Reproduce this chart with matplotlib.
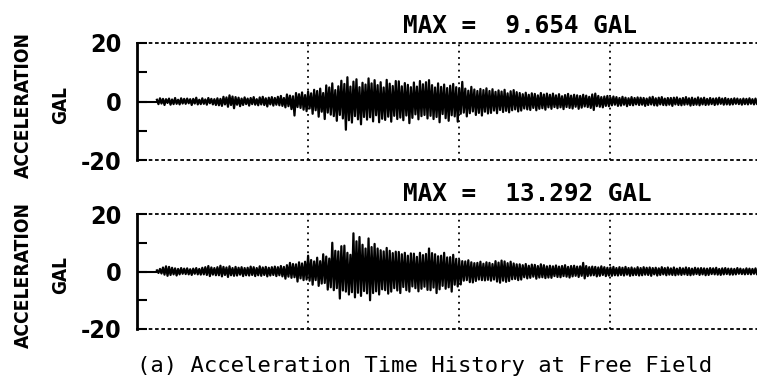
import numpy as np
import matplotlib
matplotlib.use("Agg")
import matplotlib.pyplot as plt
from matplotlib import font_manager as fm

plt.rcParams["axes.unicode_minus"] = False

# acceleration readings (gal), one value per 0.1 s
free_top = [
    0.6, -0.9, 1.1, -0.7, 0.9, -1.2, 0.8, -0.5, 1.0, -1.1, 0.7, -0.9, 1.2, -0.8, 0.6, -1.0, 1.1, -0.7, 0.9, -0.8,
    1.0, -0.6, 0.8, -1.2, 0.9, -0.7, 1.3, -1.0, 0.6, -0.9, 1.1, -0.8, 0.7, -1.1, 1.2, -0.6, 0.9, -1.0, 0.8, -1.2,
    1.1, -1.3, 0.9, -1.5, 1.6, -1.0, 1.4, -1.8, 2.1, -1.2, 1.7, -2.3, 1.5, -1.1, 1.3, -1.6, 1.0, -1.2, 1.4, -0.9,
    1.0, -1.4, 1.2, -0.9, 1.5, -1.1, 0.8, -1.3, 1.4, -1.0, 1.6, -1.2, 1.1, -1.7, 1.3, -1.0, 1.5, -1.4, 1.2, -1.1,
    1.6, -1.3, 1.9, -1.5, 1.2, -2.0, 2.4, -1.6, 2.0, -2.6, 1.8, -4.8, 2.9, -1.9, 2.5, -2.2, 3.1, -2.8, 2.2, -3.3,
    3.4, -2.4, 2.8, -4.2, 4.0, -3.0, 3.6, -5.2, 4.4, -3.5, 2.9, -6.0, 5.5, -3.8, 4.8, -4.5, 6.2, -5.0, 3.9, -6.6,
    5.2, -4.6, 7.1, -5.8, 6.0, -9.65, 8.3, -6.4, 5.1, -7.2, 6.8, -5.0, 7.6, -6.1, 4.9, -7.8, 6.4, -5.3, 5.8, -6.2,
    7.9, -5.4, 6.2, -6.8, 7.3, -4.7, 5.6, -7.1, 6.6, -5.9, 4.8, -6.3, 7.4, -5.2, 6.1, -6.9, 5.3, -4.9, 7.0, -6.0,
    6.9, -5.5, 5.2, -6.4, 6.3, -4.8, 5.7, -7.4, 4.9, -5.6, 6.5, -4.4, 5.1, -6.1, 7.0, -5.0, 5.9, -4.6, 6.6, -5.8,
    7.3, -4.9, 5.6, -6.0, 4.8, -5.3, 6.2, -7.1, 5.0, -4.3, 5.8, -5.7, 4.6, -6.6, 5.4, -4.7, 6.0, -5.1, 4.9, -6.9,
    4.6, -4.2, 6.7, -3.8, 4.4, -5.1, 3.7, -4.0, 5.0, -3.4, 4.1, -4.6, 3.6, -3.9, 4.3, -4.8, 3.9, -3.5, 4.5, -4.1,
    3.6, -3.9, 4.2, -3.1, 3.3, -4.0, 3.8, -2.9, 3.4, -3.6, 4.0, -3.2, 2.8, -3.7, 3.5, -3.0, 3.9, -2.7, 3.2, -3.4,
    2.9, -3.1, 2.5, -2.4, 3.0, -2.7, 2.3, -2.9, 2.8, -2.2, 2.6, -3.0, 2.1, -2.5, 2.9, -2.3, 2.4, -2.8, 2.7, -2.0,
    2.3, -2.5, 2.7, -1.9, 2.1, -2.3, 2.5, -2.0, 1.8, -2.6, 2.2, -1.9, 2.6, -2.2, 2.0, -2.4, 2.3, -1.8, 2.1, -2.5,
    1.9, -2.1, 2.3, -1.7, 2.0, -1.9, 1.6, -2.2, 2.4, -2.9, 2.7, -1.6, 1.9, -1.8, 1.5, -2.0, 1.7, -1.5, 1.9, -1.6,
    1.4, -1.3, 1.7, -1.1, 1.5, -1.5, 1.2, -1.4, 1.6, -1.1, 1.3, -1.6, 1.1, -1.2, 1.5, -1.3, 1.2, -1.0, 1.4, -1.2,
    1.3, -1.1, 1.2, -1.5, 1.0, -1.2, 1.4, -1.0, 1.6, -1.3, 1.1, -1.4, 1.3, -1.0, 1.5, -1.2, 1.0, -1.3, 1.2, -1.1,
    1.2, -1.5, 1.3, -1.0, 1.4, -1.2, 1.0, -1.3, 1.2, -1.1, 1.5, -1.0, 1.1, -1.4, 1.3, -1.2, 1.0, -1.1, 1.4, -1.3,
    1.1, -1.0, 1.3, -1.2, 0.9, -1.1, 1.2, -0.9, 1.0, -1.2, 1.1, -1.0, 1.3, -0.8, 1.0, -1.1, 1.2, -1.0, 0.9, -1.1,
    0.9, -1.0, 1.1, -0.8, 1.0, -0.9, 0.8, -1.1, 1.0, -0.9, 0.9, -1.0, 1.1, -0.8, 0.8, -1.0, 1.0, -0.9, 0.9, -0.8,
]
free_bot = [
    0.4, -0.5, 0.9, -0.7, 1.4, -1.1, 1.8, -1.5, 1.6, -1.2, 1.3, -1.0, 1.1, -1.4, 0.9, -1.0, 1.2, -0.8, 1.0, -0.9,
    1.1, -1.0, 0.8, -1.2, 1.0, -0.8, 1.2, -1.0, 0.9, -1.1, 1.3, -1.0, 1.5, -1.2, 1.9, -1.6, 1.4, -1.1, 1.2, -1.3,
    1.5, -1.3, 2.0, -1.7, 1.6, -1.2, 1.4, -1.9, 1.8, -1.3, 1.2, -1.5, 1.6, -1.4, 1.3, -1.1, 1.5, -1.6, 1.2, -1.3,
    1.3, -1.4, 1.7, -1.2, 1.5, -1.6, 1.2, -1.3, 1.8, -1.5, 1.4, -1.2, 1.6, -1.7, 1.3, -1.4, 1.5, -1.2, 1.7, -1.6,
    1.5, -1.3, 1.9, -1.7, 1.6, -2.5, 2.2, -1.8, 3.0, -2.2, 2.6, -2.0, 2.5, -3.5, 3.2, -2.4, 2.8, -3.0, 3.4, -2.8,
    5.5, -3.2, 4.0, -4.6, 3.5, -3.0, 4.8, -5.0, 3.6, -4.2, 6.0, -4.0, 5.2, -6.3, 4.5, -5.5, 10.0, -6.5, 7.2, -5.8,
    7.0, -9.4, 8.8, -6.6, 9.0, -7.0, 6.5, -8.0, 5.8, -7.2, 13.29, -9.0, 10.5, -7.4, 12.0, -8.5, 9.3, -6.8, 8.0, -7.6,
    11.5, -10.0, 8.5, -7.5, 9.6, -6.9, 8.0, -8.0, 7.4, -6.2, 7.0, -6.5, 8.2, -7.7, 7.2, -7.0, 6.4, -5.8, 6.9, -6.6,
    6.8, -7.5, 6.0, -5.4, 6.5, -6.5, 5.5, -7.0, 6.3, -5.2, 6.2, -5.8, 5.1, -6.9, 6.5, -6.0, 5.7, -5.3, 6.1, -6.4,
    8.0, -6.5, 6.4, -5.6, 6.0, -7.5, 5.3, -6.2, 5.5, -5.0, 6.5, -6.0, 4.9, -5.5, 5.0, -7.0, 5.8, -4.6, 4.4, -5.2,
    4.0, -4.5, 3.6, -3.2, 3.5, -3.0, 3.9, -3.7, 3.2, -3.8, 2.9, -3.3, 3.0, -2.8, 3.4, -3.0, 2.7, -3.1, 3.2, -2.9,
    3.0, -3.2, 2.6, -2.8, 3.6, -3.5, 3.1, -3.9, 3.8, -3.2, 3.5, -3.6, 2.9, -3.3, 3.4, -2.7, 2.8, -2.6, 2.5, -3.0,
    2.5, -2.8, 2.2, -2.0, 2.6, -2.4, 2.0, -2.2, 2.4, -1.8, 2.3, -2.5, 1.9, -2.1, 2.5, -2.0, 2.2, -2.3, 1.8, -2.1,
    2.0, -2.2, 1.8, -1.6, 2.1, -1.9, 1.7, -2.0, 1.9, -1.6, 2.2, -1.8, 1.6, -2.1, 1.9, -1.7, 2.0, -1.5, 1.7, -1.9,
    1.8, -1.5, 3.0, -2.4, 1.9, -1.6, 1.5, -1.4, 1.7, -1.3, 1.6, -1.7, 1.4, -1.5, 1.8, -1.2, 1.5, -1.6, 1.3, -1.4,
    1.4, -1.5, 1.6, -1.3, 1.2, -1.4, 1.5, -1.2, 1.3, -1.4, 1.6, -1.1, 1.2, -1.5, 1.4, -1.3, 1.1, -1.2, 1.5, -1.4,
    1.2, -1.3, 1.5, -1.1, 1.3, -1.2, 1.4, -1.5, 1.2, -1.0, 1.3, -1.4, 1.1, -1.2, 1.5, -1.0, 1.2, -1.3, 1.4, -1.1,
    1.1, -1.2, 1.4, -1.3, 1.0, -1.1, 1.3, -1.2, 1.1, -1.0, 1.4, -1.2, 1.2, -1.3, 1.0, -1.1, 1.3, -0.9, 1.1, -1.2,
    1.2, -1.0, 1.1, -1.3, 1.0, -1.2, 1.2, -0.9, 1.1, -1.0, 1.3, -1.1, 0.9, -1.2, 1.1, -1.0, 1.2, -0.9, 1.0, -1.1,
    1.0, -1.1, 0.9, -1.0, 1.2, -0.8, 1.0, -0.9, 0.8, -1.0, 1.1, -0.9, 1.0, -1.0, 0.9, -0.8, 1.1, -1.0, 0.8, -0.9,
]
max_labels = ["MAX =  9.654 GAL", "MAX =  13.292 GAL"]
dt = 0.1
yticks = [-20, 0, 20]
grid_t = [10, 20, 30]


def pick_narrow():
    # a condensed bold face if one is installed, otherwise DejaVu Sans bold
    for f in fm.fontManager.ttflist:
        narrow = ("Condensed" in f.name or "Narrow" in f.name
                  or f.stretch in ("condensed", "semi-condensed", "extra-condensed"))
        if narrow and f.weight in ("bold", 700, "demibold", 600):
            return fm.FontProperties(fname=f.fname)
    return fm.FontProperties(family="DejaVu Sans", weight="bold")


W, H = 757, 385
fig = plt.figure(figsize=(W / 100, H / 100), dpi=100)
nfont = pick_narrow()
mono = ["DejaVu Sans Mono"]

boxes = [(43, 160), (214, 329)]
label_y = [105, 275]
max_y = [33, 201]

fit_texts = []  # (text, target size in px, which side)
for k, rec in enumerate([free_top, free_bot]):
    top, bot = boxes[k]
    ax = fig.add_axes([137 / W, 1 - bot / H, 1 - 137 / W, (bot - top) / H])
    t = np.arange(len(rec)) * dt
    ax.plot(t, rec, color="black", lw=1.6)
    ax.hlines(0, -1.32, 0, color="black", lw=1.5)
    ax.set_xlim(-1.32, 39.7)
    ax.set_ylim(-20, 20)
    for g in grid_t:
        ax.axvline(g, color="black", lw=1.3, ls=(0, (1, 2.5)))
    ax.spines["right"].set_visible(False)
    ax.spines["left"].set_linewidth(2)
    for s in ["top", "bottom"]:
        ax.spines[s].set_linestyle((0, (1, 2.5)))
        ax.spines[s].set_linewidth(1.3)
    ax.set_xticks([])
    ax.set_yticks(yticks)
    ax.set_yticks([-10, 10], minor=True)
    ax.tick_params(axis="y", which="both", direction="in", length=7, width=1.5,
                   pad=11)
    for lab in ax.get_yticklabels():
        lab.set_fontproperties(nfont)
        lab.set_fontsize(18)
        if lab.get_text() == "20":
            fit_texts.append((lab, 30, "w"))

    a = fig.text(23 / W, 1 - label_y[k] / H, "ACCELERATION", rotation=90,
                 ha="center", va="center", fontproperties=nfont)
    g = fig.text(61 / W, 1 - label_y[k] / H, "GAL", rotation=90,
                 ha="center", va="center", fontproperties=nfont)
    a.set_fontsize(15)
    g.set_fontsize(15)
    fit_texts.append((a, 146, "h"))
    fit_texts.append((g, 38, "h"))
    fig.text(403 / W, 1 - max_y[k] / H, max_labels[k], ha="left", va="baseline",
             family=mono, weight="bold", fontsize=17.6)

fig.text(137 / W, 1 - 372 / H, "(a) Acceleration Time History at Free Field",
         ha="left", va="baseline", family=mono, fontsize=16)

# scale the condensed-style labels to the sizes seen in the figure
fig.canvas.draw()
r = fig.canvas.get_renderer()
for txt, target, side in fit_texts:
    bb = txt.get_window_extent(r)
    cur = bb.width if side == "w" else bb.height
    txt.set_fontsize(txt.get_fontsize() * target / cur)
# keep all tick labels the same size as the fitted "20"
for ax in fig.axes:
    labs = ax.get_yticklabels()
    size = max(l.get_fontsize() for l in labs)
    for l in labs:
        l.set_fontsize(size)

fig.savefig("out.png", dpi=100)
